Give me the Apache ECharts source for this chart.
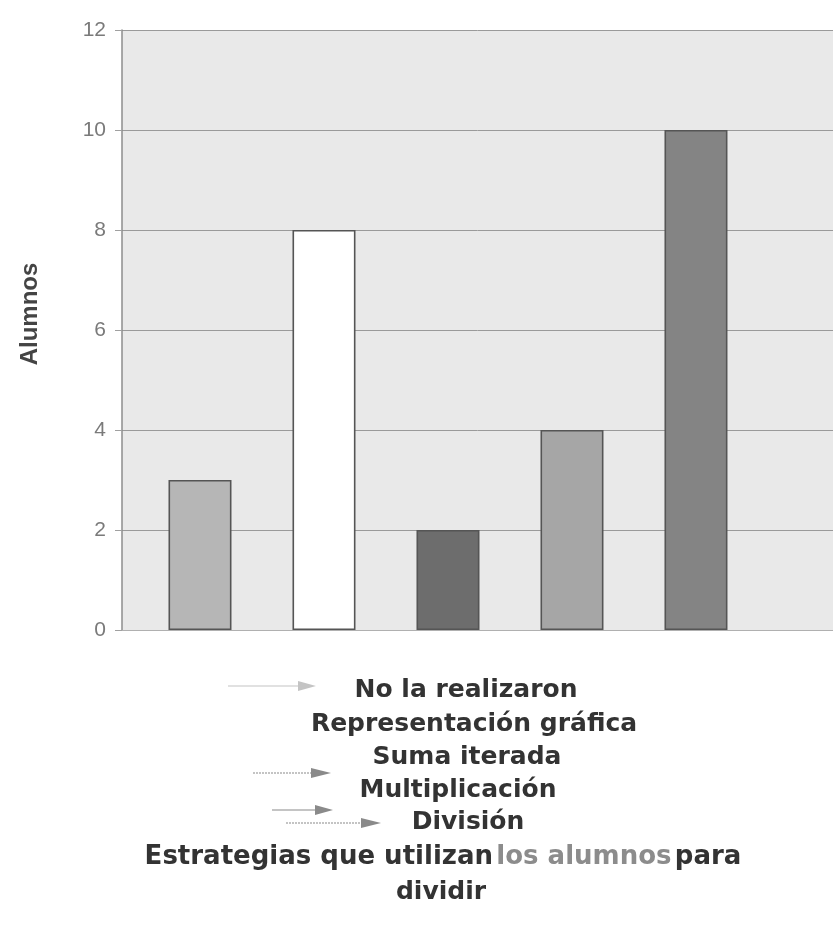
<!DOCTYPE html>
<html>
<head>
<meta charset="utf-8">
<script src="https://cdn.jsdelivr.net/npm/echarts@6/dist/echarts.min.js"></script>
<style>
  html, body { margin: 0; padding: 0; background: #ffffff; }
  #chart { width: 833px; height: 941px; }
</style>
</head>
<body>
<div id="chart"></div>
<script>
// Strategies used by the students to divide, and how many used each one
const categories = ['No la realizaron', 'Representación gráfica', 'Suma iterada', 'Multiplicación', 'División'];
const alumnos = [3, 8, 2, 4, 10];
const barColors = ['#b6b6b6', '#ffffff', '#6d6d6d', '#a6a6a6', '#848484'];
const yTicks = [0, 2, 4, 6, 8, 10, 12];
const axisTitle = 'Alumnos';
const captionMain = 'Estrategias que utilizan';
const captionLight = 'los alumnos';
const captionEnd = 'para';
const captionLast = 'dividir';

const chart = echarts.init(document.getElementById('chart'), null, { renderer: 'canvas' });

// bars sit at positions 1..5 on a numeric x scale
const barData = alumnos.map((v, i) => ({
  value: [i + 1, v],
  itemStyle: { color: barColors[i] }
}));

// legend text lines below the plot, with their centres
const legendY = [690, 724, 757, 790, 822];
const legendX = [466, 474, 467, 458, 468];
const textFont = '"DejaVu Sans", Verdana, sans-serif';
const textSize = 25;
const captionSize = 26;

const graphics = [];
categories.forEach((name, i) => {
  graphics.push({
    type: 'text',
    x: legendX[i], y: legendY[i],
    style: {
      text: name, fill: '#333333',
      font: 'bold ' + textSize + 'px ' + textFont,
      textAlign: 'center', textVerticalAlign: 'middle'
    }
  });
});

// small pointer arrows beside the legend lines
function arrow(x1, x2, y, headLen, color, dashed) {
  graphics.push({
    type: 'line',
    shape: { x1: x1, y1: y, x2: x2 - headLen + 2, y2: y },
    style: { stroke: color, lineWidth: 1.2, lineDash: dashed ? [2, 1] : null }
  });
  graphics.push({
    type: 'polygon',
    shape: { points: [[x2 - headLen, y - 5], [x2, y], [x2 - headLen, y + 5]] },
    style: { fill: color }
  });
}
arrow(228, 316, 686, 18, '#c4c4c4', false);
arrow(253, 331, 773, 20, '#8a8a8a', true);
arrow(272, 333, 810, 18, '#8a8a8a', false);
arrow(286, 381, 823, 20, '#8a8a8a', true);

graphics.push({
  type: 'text',
  x: 443, y: 857,
  style: {
    text: '{a|' + captionMain + '} {b|' + captionLight + '} {a|' + captionEnd + '}',
    textAlign: 'center', textVerticalAlign: 'middle',
    rich: {
      a: { fill: '#333333', font: 'bold ' + captionSize + 'px ' + textFont },
      b: { fill: '#8c8c8c', font: 'bold ' + captionSize + 'px ' + textFont }
    }
  }
});
graphics.push({
  type: 'text',
  x: 441, y: 892,
  style: {
    text: captionLast, fill: '#333333',
    font: 'bold ' + textSize + 'px ' + textFont,
    textAlign: 'center', textVerticalAlign: 'middle'
  }
});

// vertical axis title
graphics.push({
  type: 'text',
  x: 30, y: 314,
  rotation: Math.PI / 2,
  style: {
    text: axisTitle, fill: '#444444',
    font: 'bold 24px "Liberation Sans", Arial, sans-serif',
    textAlign: 'center', textVerticalAlign: 'middle'
  }
});

chart.setOption({
  animation: false,
  backgroundColor: '#ffffff',
  grid: {
    left: 122, right: 0, top: 30, bottom: 311,
    show: true, backgroundColor: '#e9e9e9', borderWidth: 0
  },
  xAxis: {
    type: 'value',
    min: 0.371, max: 6.105,
    axisLine: { show: true, onZero: false, lineStyle: { color: '#b0b0b0', width: 1 } },
    axisTick: { show: false },
    axisLabel: { show: false },
    splitLine: { show: false }
  },
  yAxis: {
    type: 'value',
    min: yTicks[0], max: yTicks[yTicks.length - 1], interval: 2,
    axisLine: { show: true, lineStyle: { color: '#8c8c8c', width: 1.5 } },
    axisTick: { show: true, length: 7, lineStyle: { color: '#a0a0a0' } },
    axisLabel: { color: '#7a7a7a', fontSize: 21, margin: 16, fontFamily: '"Liberation Sans", Arial, sans-serif' },
    splitLine: { show: true, lineStyle: { color: '#9a9a9a', width: 1 } }
  },
  series: [{
    type: 'bar',
    data: barData,
    barWidth: 63,
    itemStyle: { borderColor: '#555555', borderWidth: 1.6 }
  }],
  graphic: graphics
});
</script>
</body>
</html>
